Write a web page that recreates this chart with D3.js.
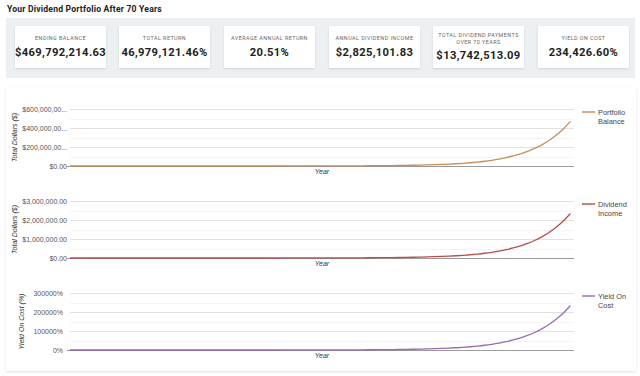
<!DOCTYPE html>
<html><head><meta charset="utf-8">
<script src="https://cdn.jsdelivr.net/npm/d3@7"></script>
<style>
html,body{margin:0;padding:0;background:#fff;}
svg{display:block;}
</style></head>
<body>
<svg id="c" width="640" height="376"></svg>
<script>
const title = "Your Dividend Portfolio After 70 Years";
const cardLabels = [["ENDING BALANCE"],["TOTAL RETURN"],["AVERAGE ANNUAL RETURN"],["ANNUAL DIVIDEND INCOME"],["TOTAL DIVIDEND PAYMENTS","OVER 70 YEARS"],["YIELD ON COST"]];
const cardValues = ["$469,792,214.63","46,979,121.46%","20.51%","$2,825,101.83","$13,742,513.09","234,426.60%"];

const years = d3.range(0, 71);
const balance = [1000,1205,1452,1750,2109,2541,3063,3691,4448,5360,6459,7784,9380,11304,13623,16417,19784,23841,28731,34624,41725,50283,60596,73024,88001,106050,127800,154012,185600,223667,269541,324824,391446,471732,568484,685080,825590,994919,1198977,1444887,1741233,2098360,2528733,3047376,3672393,4425601,5333292,6427150,7745358,9333931,11248318,13555348,16335550,19686012,23723613,28589426,34453217,41519572,50035236,60297463,72664484,87567990,105528184,127171016,153253791,184686144,222565273,268213410,323223981,389517220,469792215];
const dividend = [5,6,7,9,11,13,15,18,22,27,32,39,47,56,68,82,99,119,143,173,208,251,302,364,439,529,638,769,926,1116,1345,1621,1953,2354,2837,3419,4120,4965,5983,7210,8689,10471,12618,15206,18325,22084,26613,32071,38649,46576,56129,67641,81514,98233,118381,142661,171922,207183,249676,300884,362596,436964,526585,634583,764736,921584,1110601,1338385,1612888,1943691,2344266];
const yieldOnCost = [0.5,0.6,0.7,0.9,1.1,1.3,1.5,1.8,2.2,2.7,3.2,3.9,4.7,5.6,6.8,8.2,9.9,11.9,14.3,17.3,20.8,25.1,30.2,36.4,43.9,52.9,63.8,76.9,92.6,111.6,134.5,162.1,195.3,235.4,283.7,341.9,412,496.5,598.3,721,868.9,1047.1,1261.8,1520.6,1832.5,2208.4,2661.3,3207.1,3864.9,4657.6,5612.9,6764.1,8151.4,9823.3,11838.1,14266.1,17192.2,20718.3,24967.6,30088.4,36259.6,43696.4,52658.5,63458.3,76473.6,92158.4,111060.1,133838.5,161288.8,194369.1,234426.6];

const ticks1 = [0,200000000,400000000,600000000];
const tickLabels1 = ["$0.00","$200,000,00...","$400,000,00...","$600,000,00..."];
const ticks2 = [0,1000000,2000000,3000000];
const tickLabels2 = ["$0.00","$1,000,000.00","$2,000,000.00","$3,000,000.00"];
const ticks3 = [0,100000,200000,300000];
const tickLabels3 = ["0%","100000%","200000%","300000%"];

const svg = d3.select("#c");
const defs = svg.append("defs");
const f = defs.append("filter").attr("id","sh").attr("x","-10%").attr("y","-10%").attr("width","120%").attr("height","130%");
f.append("feDropShadow").attr("dx",0).attr("dy",1).attr("stdDeviation",1).attr("flood-color","#000").attr("flood-opacity",0.12);

svg.append("text").attr("x",7).attr("y",11.5).text(title)
  .attr("font-family","Roboto").attr("font-weight",700).attr("font-size",8.6).attr("fill","#222").attr("letter-spacing",0.2);

// stats panel
svg.append("rect").attr("x",6).attr("y",18).attr("width",629).attr("height",60).attr("fill","#edf0f3");
const cardX = [15,119,224,329,433,538];
const cardW = 91;
cardX.forEach((x,i)=>{
  const g = svg.append("g").attr("transform",`translate(${x},26)`);
  g.append("rect").attr("width",cardW).attr("height",42).attr("fill","#fff").attr("filter","url(#sh)");
  const lines = cardLabels[i];
  const two = lines.length>1;
  lines.forEach((l,j)=>{
    g.append("text").attr("x",cardW/2).attr("y",(two?10.5:14)+j*7.6).attr("text-anchor","middle")
      .attr("font-family","Roboto").attr("font-size",5.4).attr("letter-spacing",0.45).attr("fill","#666").text(l);
  });
  g.append("text").attr("x",cardW/2).attr("y",two?33:30).attr("text-anchor","middle")
    .attr("font-family","Roboto").attr("font-weight",700).attr("font-size",11.2).attr("letter-spacing",0.35).attr("fill","#222").text(cardValues[i]);
});

// charts panel
svg.append("rect").attr("x",6).attr("y",87).attr("width",630).attr("height",284).attr("fill","#fff").attr("filter","url(#sh)");

const x = d3.scaleLinear().domain([0,70.5]).range([70,574]);

function chart(cfg){
  const y = d3.scaleLinear().domain([0, cfg.ticks[cfg.ticks.length-1]]).range([cfg.y0, cfg.y1]);
  const g = svg.append("g");
  // minor gridlines
  const minor = cfg.ticks.slice(0,-1).map((t,i)=>(t+cfg.ticks[i+1])/2);
  g.selectAll(".mn").data(minor).join("line")
    .attr("x1",70).attr("x2",574).attr("y1",d=>Math.round(y(d))+0.5).attr("y2",d=>Math.round(y(d))+0.5)
    .attr("stroke","#f4f4f4").attr("stroke-width",1);
  g.selectAll(".mj").data(cfg.ticks.slice(1)).join("line")
    .attr("x1",70).attr("x2",574).attr("y1",d=>Math.round(y(d))+0.5).attr("y2",d=>Math.round(y(d))+0.5)
    .attr("stroke","#e2e2e2").attr("stroke-width",1);
  g.append("line").attr("x1",67).attr("x2",574).attr("y1",Math.round(y(0))+0.5).attr("y2",Math.round(y(0))+0.5)
    .attr("stroke","#9a9a9a").attr("stroke-width",1);
  g.selectAll(".tl").data(cfg.ticks).join("text")
    .attr("x",cfg.labelX).attr("y",d=>y(d)+2.5).attr("text-anchor","end")
    .attr("font-family","Liberation Sans, Arial").attr("font-size",7).attr("fill","#555")
    .text((d,i)=>cfg.labels[i]);
  const line = d3.line().x((d,i)=>x(years[i])).y(d=>y(d)).curve(d3.curveMonotoneX);
  g.append("path").datum(cfg.values).attr("d",line).attr("fill","none")
    .attr("stroke",cfg.color).attr("stroke-width",1.3).attr("stroke-opacity",0.9);
  g.append("text").attr("x",322).attr("y",cfg.y0+8).attr("text-anchor","middle")
    .attr("font-family","Liberation Sans, Arial").attr("font-style","italic").attr("font-size",7).attr("fill","#333").text("Year");
  g.append("text").attr("transform",`translate(${cfg.titleX},${(cfg.y0+cfg.y1)/2}) rotate(-90)`)
    .attr("text-anchor","middle").attr("font-family","Liberation Sans, Arial").attr("font-style","italic")
    .attr("font-size",7).attr("fill","#333").text(cfg.title);
  const ly = cfg.y1 + 3;
  g.append("line").attr("x1",582).attr("x2",595).attr("y1",ly).attr("y2",ly).attr("stroke",cfg.color).attr("stroke-width",1.3);
  cfg.legend.forEach((t,i)=>{
    g.append("text").attr("x",598).attr("y",ly+2.5+i*9.5).attr("font-family","Liberation Sans, Arial")
      .attr("font-size",7.4).attr("fill","#444").text(t);
  });
}

chart({ticks:ticks1,labels:tickLabels1,values:balance,y0:166,y1:109,color:"#c0824a",labelX:67,titleX:17,title:"Total Dollars ($)",legend:["Portfolio","Balance"]});
chart({ticks:ticks2,labels:tickLabels2,values:dividend,y0:258,y1:201,color:"#b23b3b",labelX:67,titleX:17,title:"Total Dollars ($)",legend:["Dividend","Income"]});
chart({ticks:ticks3,labels:tickLabels3,values:yieldOnCost,y0:350,y1:293,color:"#8e5ba6",labelX:63,titleX:24,title:"Yield On Cost (%)",legend:["Yield On","Cost"]});
</script>
</body></html>
